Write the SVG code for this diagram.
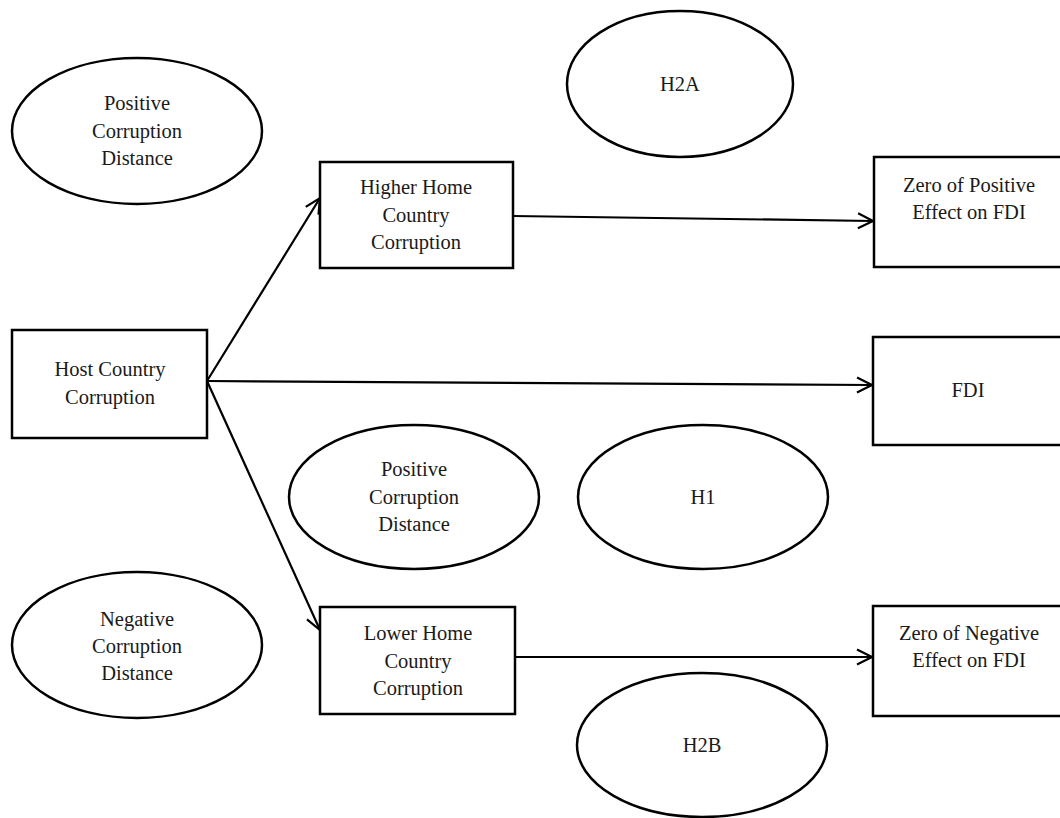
<svg xmlns="http://www.w3.org/2000/svg" width="1060" height="818" viewBox="0 0 1060 818">
<defs>
<style>
.n{fill:#fff;stroke:#000;stroke-width:2.5}
.t{font-family:"Liberation Serif","Times New Roman",serif;font-size:20.5px;fill:#1a1a1a;text-anchor:middle}
.c{stroke:#000;stroke-width:2.2;fill:none}
</style>
<marker id="ah" markerWidth="18" markerHeight="18" refX="16" refY="9" orient="auto" markerUnits="userSpaceOnUse">
<path d="M1,1.5 L16,9 L1,16.5" fill="none" stroke="#000" stroke-width="2.2"/>
</marker>
</defs>
<rect width="1060" height="818" fill="#fff"/>
<g id="connectors">
<line class="c" x1="207" y1="381" x2="320" y2="198" marker-end="url(#ah)"/>
<line class="c" x1="207" y1="381" x2="872" y2="385" marker-end="url(#ah)"/>
<line class="c" x1="207" y1="381" x2="320" y2="630" marker-end="url(#ah)"/>
<line class="c" x1="513" y1="216" x2="873" y2="221" marker-end="url(#ah)"/>
<line class="c" x1="515" y1="657" x2="872" y2="657" marker-end="url(#ah)"/>
</g>
<g id="e-pos-top">
<ellipse class="n" cx="137" cy="131" rx="125" ry="73"/>
<text class="t" x="137" y="110">Positive</text>
<text class="t" x="137" y="138">Corruption</text>
<text class="t" x="137" y="165">Distance</text>
</g>
<g id="e-h2a">
<ellipse class="n" cx="680" cy="84" rx="113" ry="73"/>
<text class="t" x="680" y="91">H2A</text>
</g>
<g id="n-higher">
<rect class="n" x="320" y="162" width="193" height="106"/>
<text class="t" x="416" y="194">Higher Home</text>
<text class="t" x="416" y="222">Country</text>
<text class="t" x="416" y="249">Corruption</text>
</g>
<g id="n-zero-pos">
<rect class="n" x="874" y="157" width="200" height="110"/>
<text class="t" x="969" y="192">Zero of Positive</text>
<text class="t" x="969" y="219">Effect on FDI</text>
</g>
<g id="n-host">
<rect class="n" x="12" y="330" width="195" height="108"/>
<text class="t" x="110" y="376">Host Country</text>
<text class="t" x="110" y="404">Corruption</text>
</g>
<g id="n-fdi">
<rect class="n" x="873" y="337" width="200" height="108"/>
<text class="t" x="968" y="397">FDI</text>
</g>
<g id="e-pos-mid">
<ellipse class="n" cx="414" cy="497" rx="125" ry="72"/>
<text class="t" x="414" y="476">Positive</text>
<text class="t" x="414" y="504">Corruption</text>
<text class="t" x="414" y="531">Distance</text>
</g>
<g id="e-h1">
<ellipse class="n" cx="703" cy="497" rx="125" ry="72"/>
<text class="t" x="703" y="504">H1</text>
</g>
<g id="e-neg">
<ellipse class="n" cx="137" cy="645" rx="125" ry="73"/>
<text class="t" x="137" y="626">Negative</text>
<text class="t" x="137" y="653">Corruption</text>
<text class="t" x="137" y="680">Distance</text>
</g>
<g id="n-lower">
<rect class="n" x="320" y="607" width="195" height="107"/>
<text class="t" x="418" y="640">Lower Home</text>
<text class="t" x="418" y="668">Country</text>
<text class="t" x="418" y="695">Corruption</text>
</g>
<g id="n-zero-neg">
<rect class="n" x="873" y="606" width="200" height="110"/>
<text class="t" x="969" y="640">Zero of Negative</text>
<text class="t" x="969" y="667">Effect on FDI</text>
</g>
<g id="e-h2b">
<ellipse class="n" cx="702" cy="745" rx="125" ry="72"/>
<text class="t" x="702" y="752">H2B</text>
</g>
</svg>
